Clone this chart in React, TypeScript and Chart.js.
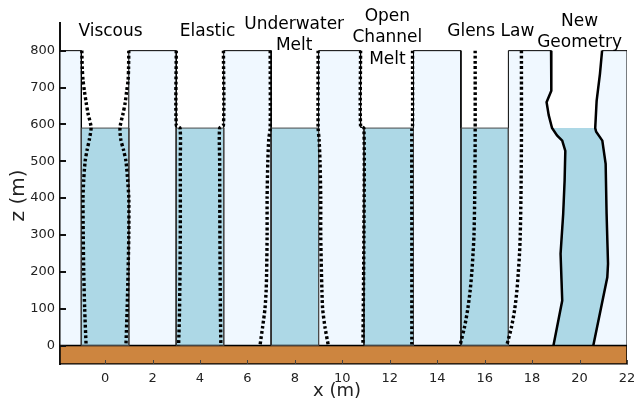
import { useEffect, useRef } from 'react';
import { Chart, registerables } from 'chart.js';

Chart.register(...registerables);

// ---- axis ticks ----
const xTicks = [0, 2, 4, 6, 8, 10, 12, 14, 16, 18, 20, 22];
const zTicks = [0, 100, 200, 300, 400, 500, 600, 700, 800];

// ---- panel labels ----
const panelNames = ['Viscous', 'Elastic', 'Underwater\nMelt', 'Open\nChannel\nMelt', 'Glens Law', 'New\nGeometry'];
const labelX = [0.23, 4.32, 7.97, 11.9, 16.26, 20.0];
const labelZ = [840.7, 840.7, 859.7, 881.4, 840.7, 867.8];

// ---- geometry levels ----
const iceTop = 800;
const waterLevel = 590;
const groundBottom = -50;

// ice blocks [left, right] (rectangles from 0 to iceTop)
const iceBlocks = [
  [-1.9, -1],
  [1, 3],
  [5, 7],
  [13, 15],
];
// ice block left of the open channel (melted wall)
const openIceX = [9, 9, 10.77, 10.77, 10.91, 10.91];
const openIceZ = [0, 800, 800, 592, 590, 0];

// water blocks [left, right] (from 0 to waterLevel)
const waterBlocks = [
  [-1, 1],
  [3, 5],
  [7, 9],
  [10.91, 13],
  [15, 17],
];

// ---- dotted deformed walls ----
const viscousZ = [800, 750, 720, 690, 660, 630, 592, 560, 530, 500, 450, 400, 300, 200, 100, 0];
const viscousLeftX = [-0.98, -0.96, -0.93, -0.87, -0.8, -0.72, -0.59, -0.66, -0.76, -0.84, -0.9, -0.93, -0.92, -0.9, -0.86, -0.8];
const viscousRightX = [1.0, 0.99, 0.97, 0.91, 0.85, 0.76, 0.63, 0.66, 0.78, 0.88, 0.95, 1.0, 1.0, 0.97, 0.93, 0.88];

const elasticZ = [800, 598, 590, 500, 300, 100, 0];
const elasticLeftX = [3.0, 3.0, 3.16, 3.17, 3.17, 3.14, 3.1];
const elasticRightX = [4.99, 4.99, 4.83, 4.83, 4.84, 4.86, 4.88];

const meltZ = [800, 590, 560, 500, 400, 300, 200, 150, 100, 50, 0];
const meltLeftX = [6.96, 6.96, 6.9, 6.86, 6.83, 6.83, 6.81, 6.79, 6.74, 6.64, 6.53];
const meltRightX = [8.98, 8.98, 9.02, 9.06, 9.09, 9.09, 9.12, 9.14, 9.17, 9.27, 9.41];

const channelZ = [800, 595, 590, 300, 0];
const channelLeftX = [10.77, 10.77, 10.91, 10.91, 10.87];
const channelRightX = [12.96, 12.96, 12.93, 12.93, 12.93];

const glensZ = [800, 560, 400, 300, 250, 200, 150, 100, 50, 0];
const glensLeftX = [15.6, 15.6, 15.58, 15.55, 15.51, 15.46, 15.39, 15.29, 15.15, 14.96];
const glensRightX = [17.55, 17.55, 17.53, 17.5, 17.47, 17.42, 17.36, 17.27, 17.13, 16.93];

// ---- new geometry (solid walls) ----
const ngLeftZ = [800, 750, 691, 660, 625, 590, 570, 556, 528, 447, 357, 249, 122, 0];
const ngLeftX = [18.8, 18.8, 18.82, 18.61, 18.7, 18.84, 19.05, 19.27, 19.4, 19.37, 19.31, 19.2, 19.27, 18.9];
const ngRightZ = [800, 737, 664, 590, 580, 556, 493, 357, 222, 185, 0];
const ngRightX = [20.95, 20.86, 20.72, 20.66, 20.7, 20.96, 21.1, 21.14, 21.2, 21.17, 20.58];

const X_MIN = -1.9;
const X_MAX = 22;
const Z_MIN = -50;
const Z_MAX = 875;

const ICE = '#F0F8FF';
const WATER = '#ADD8E6';
const GROUND = '#CD853F';
const FONT = '"DejaVu Sans", Verdana, sans-serif';

type P = { x: number; y: number };
const pts = (xs: number[], zs: number[]): P[] => xs.map((x, i) => ({ x, y: zs[i] }));
const closed = (p: P[]): P[] => [...p, p[0]];

const polygon = (p: P[], fill: string, border: string, width: number) => ({
  data: closed(p),
  showLine: true,
  fill: 'shape',
  backgroundColor: fill,
  borderColor: border,
  borderWidth: width,
  pointRadius: 0,
  pointHoverRadius: 0,
  tension: 0,
});

const dotted = (xs: number[], zs: number[]) => ({
  data: pts(xs, zs),
  showLine: true,
  fill: false,
  borderColor: '#000',
  borderWidth: 3.4,
  borderDash: [2.8, 2.4],
  borderCapStyle: 'butt',
  pointRadius: 0,
  pointHoverRadius: 0,
  tension: 0.25,
});

const solid = (xs: number[], zs: number[]) => ({
  data: pts(xs, zs),
  showLine: true,
  fill: false,
  borderColor: '#000',
  borderWidth: 2.5,
  pointRadius: 0,
  pointHoverRadius: 0,
  tension: 0,
});

function buildDatasets() {
  const lines = [
    dotted(viscousLeftX, viscousZ),
    dotted(viscousRightX, viscousZ),
    dotted(elasticLeftX, elasticZ),
    dotted(elasticRightX, elasticZ),
    dotted(meltLeftX, meltZ),
    dotted(meltRightX, meltZ),
    dotted(channelLeftX, channelZ),
    dotted(channelRightX, channelZ),
    dotted(glensLeftX, glensZ),
    dotted(glensRightX, glensZ),
    solid(ngLeftX, ngLeftZ),
    solid(ngRightX, ngRightZ),
  ];

  const ngLeft = pts(ngLeftX, ngLeftZ);
  const ngRight = pts(ngRightX, ngRightZ);
  const ngWater = [
    ...ngLeft.filter((p) => p.y <= waterLevel),
    ...ngRight.filter((p) => p.y <= waterLevel).reverse(),
  ];

  const waters = [
    ...waterBlocks.map(([a, b]) =>
      polygon(
        [
          { x: a, y: 0 },
          { x: a, y: waterLevel },
          { x: b, y: waterLevel },
          { x: b, y: 0 },
        ],
        WATER,
        '#4a4a4a',
        1
      )
    ),
    polygon(ngWater, WATER, 'rgba(0,0,0,0)', 0),
  ];

  const ices = [
    ...iceBlocks.map(([a, b]) =>
      polygon(
        [
          { x: a, y: 0 },
          { x: a, y: iceTop },
          { x: b, y: iceTop },
          { x: b, y: 0 },
        ],
        ICE,
        '#000',
        1
      )
    ),
    polygon(pts(openIceX, openIceZ), ICE, '#000', 1),
    polygon([{ x: 17, y: 0 }, { x: 17, y: iceTop }, ...ngLeft], ICE, '#000', 1),
    polygon([...ngRight, { x: X_MAX, y: 0 }, { x: X_MAX, y: iceTop }], ICE, '#000', 1),
  ];

  const ground = polygon(
    [
      { x: X_MIN, y: groundBottom },
      { x: X_MIN, y: 0 },
      { x: X_MAX, y: 0 },
      { x: X_MAX, y: groundBottom },
    ],
    GROUND,
    '#000',
    1.5
  );

  return [...lines, ...waters, ...ices, ground];
}

const overlay = {
  id: 'overlay',
  afterDraw(chart: any) {
    const { ctx, chartArea } = chart;
    const xs = chart.scales.x;
    const ys = chart.scales.y;
    ctx.save();
    // inward tick marks
    ctx.strokeStyle = '#111';
    ctx.lineWidth = 2;
    zTicks.forEach((v) => {
      const py = Math.round(ys.getPixelForValue(v));
      ctx.beginPath();
      ctx.moveTo(chartArea.left, py);
      ctx.lineTo(chartArea.left + 6, py);
      ctx.stroke();
    });
    ctx.strokeStyle = '#444';
    ctx.lineWidth = 1;
    xTicks.forEach((v) => {
      const px = Math.round(xs.getPixelForValue(v)) + 0.5;
      ctx.beginPath();
      ctx.moveTo(px, chartArea.bottom);
      ctx.lineTo(px, chartArea.bottom - 4);
      ctx.stroke();
    });
    // panel labels
    ctx.fillStyle = '#000';
    ctx.font = `17px ${FONT}`;
    ctx.textAlign = 'center';
    ctx.textBaseline = 'alphabetic';
    panelNames.forEach((name, i) => {
      const px = xs.getPixelForValue(labelX[i]);
      const py = ys.getPixelForValue(labelZ[i]);
      name.split('\n').forEach((ln, j) => ctx.fillText(ln, px, py + j * 21.5));
    });
    // axis titles
    ctx.fillStyle = '#222';
    ctx.font = `18px ${FONT}`;
    ctx.fillText('x (m)', 337, 396);
    ctx.font = `20px ${FONT}`;
    ctx.translate(24, (chartArea.top + chartArea.bottom) / 2 + 2);
    ctx.rotate(-Math.PI / 2);
    ctx.fillText('z (m)', 0, 0);
    ctx.restore();
  },
};

export default function App() {
  const ref = useRef<HTMLCanvasElement>(null);
  useEffect(() => {
    const prev = document.body.style.margin;
    document.body.style.margin = '0';
    const canvas = ref.current!;
    const chart = new Chart(canvas, {
      type: 'scatter',
      data: { datasets: buildDatasets() as any },
      options: {
        responsive: false,
        animation: false,
        devicePixelRatio: 1,
        layout: { padding: { left: 0, top: 23, right: 7, bottom: 0 } },
        plugins: {
          legend: { display: false },
          tooltip: { enabled: false },
          filler: { drawTime: 'beforeDatasetsDraw', propagate: false },
        },
        scales: {
          x: {
            type: 'linear',
            min: X_MIN,
            max: X_MAX,
            z: 1,
            afterBuildTicks: (s: any) => {
              s.ticks = xTicks.map((v) => ({ value: v }));
            },
            afterFit: (s: any) => {
              s.height = 36;
              s.paddingLeft = 0;
              s.paddingRight = 0;
            },
            grid: { display: false, drawTicks: false },
            border: { display: true, color: '#000', width: 1.5 },
            ticks: {
              font: { family: FONT, size: 13 },
              color: '#222',
              padding: 7,
              maxRotation: 0,
              autoSkip: false,
            },
          },
          y: {
            type: 'linear',
            min: Z_MIN,
            max: Z_MAX,
            z: 1,
            afterBuildTicks: (s: any) => {
              s.ticks = zTicks.map((v) => ({ value: v }));
            },
            afterFit: (s: any) => {
              s.width = 60;
              s.paddingTop = 0;
              s.paddingBottom = 0;
            },
            grid: { display: false, drawTicks: false },
            border: { display: true, color: '#111', width: 2 },
            ticks: {
              font: { family: FONT, size: 13 },
              color: '#222',
              padding: 5,
              autoSkip: false,
            },
          },
        },
      },
      plugins: [overlay],
    });
    return () => {
      chart.destroy();
      document.body.style.margin = prev;
    };
  }, []);
  return (
    <div style={{ position: 'fixed', left: 0, top: 0, width: 634, height: 400, background: '#fff' }}>
      <canvas ref={ref} width={634} height={400} style={{ display: 'block' }} />
    </div>
  );
}
